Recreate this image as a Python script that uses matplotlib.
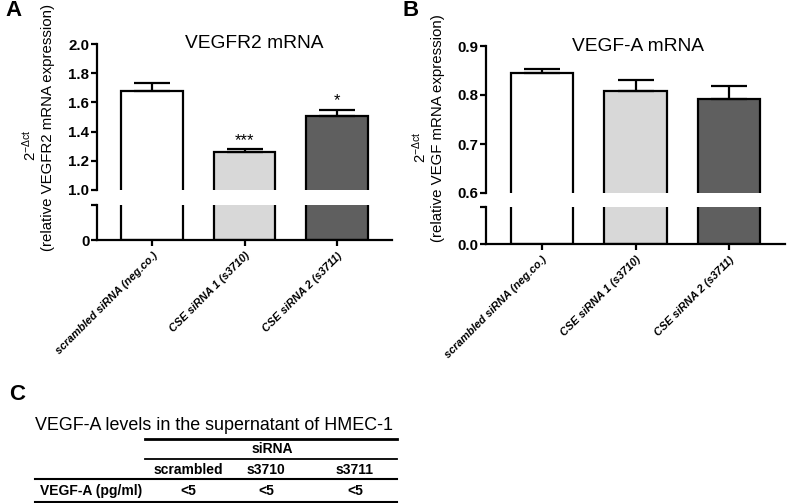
import matplotlib
matplotlib.use("Agg")
import matplotlib.pyplot as plt
from matplotlib.lines import Line2D

plt.rcParams['font.family'] = ['Liberation Sans', 'DejaVu Sans']
plt.rcParams['mathtext.fontset'] = 'custom'
plt.rcParams['mathtext.rm'] = 'Liberation Sans'
plt.rcParams['mathtext.it'] = 'Liberation Sans:italic'

# ---------------- data ----------------
categories = ["scrambled siRNA (neg.co.)", "CSE siRNA 1 (s3710)", "CSE siRNA 2 (s3711)"]
bar_colors = ["#ffffff", "#d8d8d8", "#5f5f5f"]

vegfr2_values = [1.68, 1.262, 1.509]
vegfr2_err = [0.051, 0.017, 0.039]
vegfr2_sig = ["", "***", "*"]
vegfr2_ticks_upper = [1.0, 1.2, 1.4, 1.6, 1.8, 2.0]
vegfr2_ticklabels_upper = ["1.0", "1.2", "1.4", "1.6", "1.8", "2.0"]
vegfr2_ticklabel_lower = "0"

vegfa_values = [0.844, 0.808, 0.791]
vegfa_err = [0.009, 0.023, 0.028]
vegfa_ticks_upper = [0.6, 0.7, 0.8, 0.9]
vegfa_ticklabels_upper = ["0.6", "0.7", "0.8", "0.9"]
vegfa_ticklabel_lower = "0.0"

table_title = "VEGF-A levels in the supernatant of HMEC-1"
table_group = "siRNA"
table_cols = ["scrambled", "s3710", "s3711"]
table_rowname = "VEGF-A (pg/ml)"
table_vals = ["<5", "<5", "<5"]

W, H = 787, 503
fig = plt.figure(figsize=(W / 100, H / 100), dpi=100)


def fx(x):
    return x / W


def fy(y):
    return 1 - y / H


def add_ax(x0, x1, ytop, ybot):
    return fig.add_axes([fx(x0), fy(ybot), (x1 - x0) / W, (ybot - ytop) / H])


LW = 1.6


def panel(x0, x1, y_top, y_brk_hi, y_brk_lo, y_zero, up_lim, low_lim,
          values, err, ticks, ticklabels, lowlabel, sig=None):
    ax_u = add_ax(x0, x1, y_top, y_brk_hi)
    ax_l = add_ax(x0, x1, y_brk_lo, y_zero)
    xs = list(range(len(values)))
    for ax, lim in ((ax_u, up_lim), (ax_l, low_lim)):
        ax.bar(xs, values, width=0.67, color=bar_colors, edgecolor="black",
               linewidth=LW, zorder=2)
        ax.set_ylim(*lim)
        ax.set_xlim(-0.6, 2.6)
        ax.set_facecolor("none")
        for s in ("top", "right"):
            ax.spines[s].set_visible(False)
        ax.spines["left"].set_linewidth(LW)
        ax.tick_params(axis="y", direction="out", length=4.5, width=LW,
                       labelsize=10.8, pad=1)
        for lab in ax.get_yticklabels():
            lab.set_fontweight("bold")
    ax_u.errorbar(xs, values, yerr=[[0] * len(values), err], fmt="none",
                  ecolor="black", elinewidth=LW, capsize=13, capthick=LW, zorder=3)
    ax_u.spines["bottom"].set_visible(False)
    ax_u.set_xticks([])
    ax_u.set_yticks(ticks)
    ax_u.set_yticklabels(ticklabels, fontweight="bold")
    ax_l.set_yticks([low_lim[0], low_lim[1]])
    ax_l.set_yticklabels([lowlabel, ""], fontweight="bold")
    ax_l.spines["bottom"].set_linewidth(LW)
    ax_l.set_xticks(xs)
    ax_l.set_xticklabels(categories, rotation=45, ha="right", va="top",
                         rotation_mode="anchor", fontsize=7.9,
                         fontweight="bold", fontstyle="italic")
    ax_l.tick_params(axis="x", direction="out", length=4.5, width=LW, pad=3)
    if sig:
        for x, v, e, s in zip(xs, values, err, sig):
            if s:
                ax_u.annotate(s, xy=(x, v + e), xytext=(0, 1),
                              textcoords="offset points", ha="center",
                              va="bottom", fontsize=12)
    return ax_u, ax_l


# Panel A
panel(97, 392, 44, 190, 205, 240, (1.0, 2.0), (0, 0.24),
      vegfr2_values, vegfr2_err, vegfr2_ticks_upper, vegfr2_ticklabels_upper,
      vegfr2_ticklabel_lower, vegfr2_sig)
# Panel B
panel(486, 785, 46, 193, 207, 244, (0.6, 0.9), (0, 0.075),
      vegfa_values, vegfa_err, vegfa_ticks_upper, vegfa_ticklabels_upper,
      vegfa_ticklabel_lower)

# titles
fig.text(fx(254), fy(44), "VEGFR2 mRNA", ha="center", va="center", fontsize=13.8)
fig.text(fx(638), fy(46), "VEGF-A mRNA", ha="center", va="center", fontsize=13.8)

# y labels
fig.text(fx(30), fy(145), r"2$^{-\Delta\mathrm{ct}}$", rotation=90,
         ha="center", va="center", fontsize=10.8)
fig.text(fx(48), fy(127), "(relative VEGFR2 mRNA expression)", rotation=90,
         ha="center", va="center", fontsize=10.8)
fig.text(fx(420), fy(147), r"2$^{-\Delta\mathrm{ct}}$", rotation=90,
         ha="center", va="center", fontsize=10.8)
fig.text(fx(438), fy(128), "(relative VEGF mRNA expression)", rotation=90,
         ha="center", va="center", fontsize=10.8)

# panel letters
fig.text(fx(14), fy(11), "A", ha="center", va="center", fontsize=16, fontweight="bold")
fig.text(fx(411), fy(11), "B", ha="center", va="center", fontsize=16, fontweight="bold")
fig.text(fx(17), fy(394), "C", ha="center", va="center", fontsize=16, fontweight="bold")

# ---------------- table C ----------------
fig.text(fx(35), fy(425), table_title, ha="left", va="center", fontsize=12.9)


def hline(x0, x1, y, lw):
    fig.add_artist(Line2D([fx(x0), fx(x1)], [fy(y), fy(y)], color="black",
                          linewidth=lw, transform=fig.transFigure))


hline(145, 397, 439, 2.0)
hline(145, 397, 459, 1.3)
hline(35, 397, 479, 1.5)
hline(35, 397, 502, 1.5)

col_x = [188, 266, 355]
fig.text(fx(272), fy(449), table_group, ha="center", va="center",
         fontsize=10, fontweight="bold")
for cx, c in zip(col_x, table_cols):
    fig.text(fx(cx), fy(470), c, ha="center", va="center", fontsize=10,
             fontweight="bold")
fig.text(fx(40), fy(491), table_rowname, ha="left", va="center", fontsize=10,
         fontweight="bold")
for cx, v in zip(col_x, table_vals):
    fig.text(fx(cx), fy(491), v, ha="center", va="center", fontsize=10,
             fontweight="bold")

fig.savefig("out.png", dpi=100)
